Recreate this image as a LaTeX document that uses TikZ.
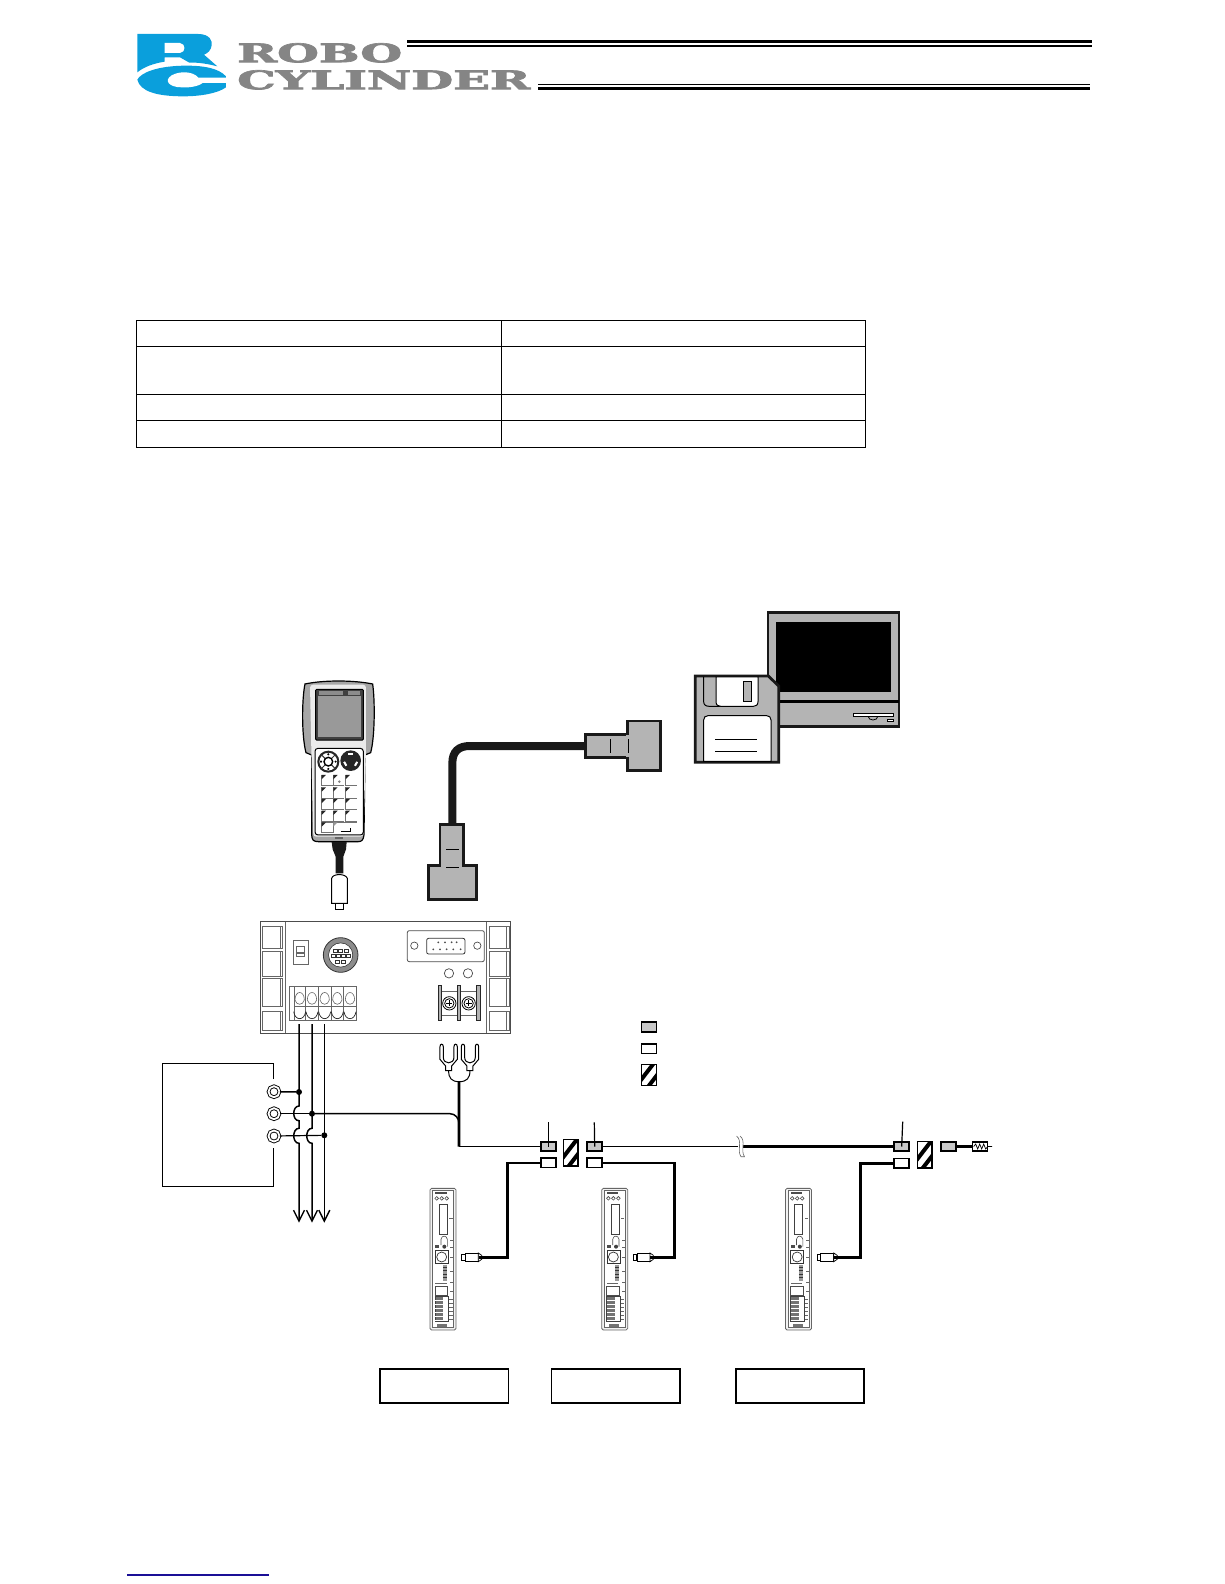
\documentclass[tikz,border=0pt]{standalone}
\usepackage{fontspec}
\usepackage{graphicx}
\usetikzlibrary{arrows.meta}
\newfontfamily\logofont[BoldFeatures={FakeBold=2.5}]{DejaVu Serif}
\definecolor{rcblue}{HTML}{0A9FDC}
\definecolor{rcgray}{HTML}{858585}
\definecolor{partgray}{HTML}{B4B4B4}
\definecolor{jointgray}{HTML}{C8C8C8}
\definecolor{linkblue}{HTML}{1A0F96}
\begin{document}
\begin{tikzpicture}[x=1pt,y=-1pt,
	zoomed/.style={x=.3333pt,y=-.3333pt},
	jointgray/.style={draw,line width=1.7pt,fill=jointgray,inner sep=0pt,minimum width=14.8pt,minimum height=9.4pt},
	jointwhite/.style={jointgray,fill=white},
	hatchbox/.style={draw,line width=1.3pt,fill=white,inner sep=0pt,minimum width=14.8pt,minimum height=#1,
		path picture={
			\draw[line width=4pt] ([shift={(-10.7pt,-8.7pt)}]path picture bounding box.center) -- ([shift={(9.3pt,17.3pt)}]path picture bounding box.center);
			\draw[line width=4pt] ([shift={(-7.3pt,-20.3pt)}]path picture bounding box.center) -- ([shift={(12.7pt,5.7pt)}]path picture bounding box.center);
		}},
	namebox/.style={draw,line width=1.8pt,inner sep=0pt,minimum width=128.6pt,minimum height=34pt},
	terminal/.style={circle,draw,double,line width=.9pt,double distance=1.8pt,inner sep=0pt,minimum size=11pt},
	tie/.style={circle,fill=black,inner sep=0pt,minimum size=6pt},
	thinwire/.style={line width=1.2pt},
	midwire/.style={line width=1.5pt},
	heavywire/.style={line width=2.6pt},
	outline/.style={draw=black!90,line width=2.8pt,fill=partgray},
	ctrlline/.style={draw=black!60,line width=.6pt},
	]
	\useasboundingbox (0,0) rectangle (1224,1584);
	% header
	\begin{scope}[shift={(130,28)},zoomed]
		\fill[rcblue] (22,18) -- (205,18) .. controls (240,18) and (248,40) .. (245,52) .. controls (243,66) and (235,75) .. (222,80) -- (262,115) .. controls (220,104) and (190,103) .. (178,104) -- (150,88) -- (104,88) -- (104,101) .. controls (70,106) and (40,118) .. (22,133) -- cycle;
		\fill[white] (104,45) -- (150,45) .. controls (168,47) and (168,73) .. (150,75) -- (104,75) -- cycle;
		\fill[rcblue] (22,155) .. controls (32,135) and (80,113) .. (170,113) .. controls (220,113) and (265,120) .. (288,145) -- (288,178) .. controls (265,195) and (215,205) .. (160,205) .. controls (80,205) and (30,190) .. (22,155) -- cycle;
		\fill[white] (290,149) -- (205,149) .. controls (190,130) and (150,128) .. (125,142) .. controls (100,158) and (118,178) .. (155,178) .. controls (185,180) and (210,172) .. (218,165) -- (290,165) -- cycle;
	\end{scope}
	\node[anchor=north west,inner sep=0pt,text=rcgray] (robo) at (237,43) {\resizebox{165pt}{19pt}{\logofont\bfseries ROBO}};
	\node[anchor=north west,inner sep=0pt,text=rcgray] (cylinder) at (237,70) {\resizebox{293pt}{19pt}{\logofont\bfseries CYLINDER}};
	\draw[line width=3pt] (407,41.5) -- (1092,41.5);
	\draw[line width=2pt] (407,45.7) -- (1092,45.7);
	\draw[line width=1.3pt] (538,84.3) -- (1090,84.3);
	\draw[line width=3pt] (538,88.3) -- (1090,88.3);
	% table
	\foreach \ty in {320,346.5,394,420,447.5}
		\draw[line width=1pt] (136.4,\ty) -- (865.6,\ty);
	\foreach \tx in {136.4,501,865.6}
		\draw[line width=1pt] (\tx,320) -- (\tx,447.5);
	% monitor and floppy
	\begin{scope}[shift={(680,600)},zoomed]
		\draw[outline,line width=2.6pt] (264,37) rectangle (657,380);
		\fill (288,67) rectangle (632,275);
		\draw[line width=3.4pt] (264,305) -- (657,305);
		\draw[line width=1pt,fill=white] (520,340) rectangle (640,350);
		\draw[line width=.8pt] (565,350) arc (180:0:14 and 10);
		\draw[line width=1pt,fill=white] (622,358) rectangle (640,365);
		\draw[outline] (46,228) -- (265,228) -- (296,258) -- (296,487) -- (46,487) -- cycle;
		\draw[line width=1pt] (71,230) -- (71,305) .. controls (71,315) and (78,319) .. (88,319) -- (220,319);
		\draw[line width=1pt,fill=white] (108,231) -- (234,231) -- (234,305) .. controls (234,315) and (228,319) .. (220,319) -- (122,319) .. controls (114,319) and (108,315) .. (108,305) -- cycle;
		\draw[line width=1pt,fill=partgray] (190,246) rectangle (215,304);
		\draw[line width=1pt,fill=white] (71,484) -- (71,360) .. controls (71,352) and (76,347) .. (84,347) -- (260,347) .. controls (268,347) and (273,352) .. (273,360) -- (273,484) -- cycle;
		\draw[line width=1pt] (105,418) -- (230,418);
		\draw[line width=1pt] (105,454) -- (230,454);
	\end{scope}
	% pc cable
	\begin{scope}[shift={(420,715)},zoomed]
		\draw[line width=8pt,black!90] (500,93) -- (150,93) .. controls (115,93) and (97,110) .. (97,145) -- (97,330);
		\draw[outline] (497,58) rectangle (625,128);
		\draw[outline] (622,18) rectangle (722,167);
		\fill[partgray] (618,61) rectangle (628,125);
		\draw[line width=.9pt] (571,72) -- (571,115);
		\draw[line width=.9pt] (625,72) -- (625,115);
		\draw[outline] (60,328) rectangle (130,452);
		\draw[outline] (25,452) rectangle (170,553);
		\fill[partgray] (64,448) rectangle (126,456);
		\draw[line width=.9pt] (78,403) -- (117,403);
		\draw[line width=.9pt] (78,457) -- (117,457);
	\end{scope}
	% teaching pendant
	\begin{scope}[shift={(280,660)},zoomed]
		\draw[line width=1.2pt,fill=black!35] (75,72) .. controls (130,60) and (220,60) .. (278,72) .. controls (285,120) and (285,230) .. (272,278) -- (255,285) -- (252,525) .. controls (250,540) and (245,545) .. (235,545) -- (115,545) .. controls (100,545) and (96,540) .. (95,525) -- (95,285) -- (78,278) .. controls (65,230) and (65,120) .. (75,72) -- cycle;
		\fill[black!8,rounded corners=3pt] (90,74) -- (258,74) -- (258,270) -- (250,530) -- (100,530) -- (94,270) -- cycle;
		\draw[line width=1pt,fill=black!75,rounded corners=1pt] (107,88) rectangle (250,240);
		\fill[black!40] (115,107) rectangle (242,232);
		\fill[black!45] (118,92) rectangle (190,104);
		\fill[black!45] (205,92) rectangle (240,104);
		\draw[line width=1pt,fill=white,rounded corners=3pt] (105,265) rectangle (250,525);
		\draw[line width=2pt,draw=black!85,fill=white] (145,305) circle (30);
		\foreach \da in {45,135,225,315}
			\draw[line width=1pt,black!80] (145,305) ++(\da:13) -- ++(\da:17);
		\draw[line width=1.4pt,fill=white] (145,305) circle (13);
		\foreach \da in {0,90,180,270}
			\fill[black] (145,305) ++(\da:22) circle (3.5);
		\fill[black!85] (212,302) circle (31);
		\draw[white,line width=2pt] (212,302) ++(-110:20) arc (-110:-70:20);
		\draw[white,line width=2pt] (212,302) ++(10:20) arc (10:50:20);
		\draw[white,line width=2pt] (212,302) ++(130:20) arc (130:170:20);
		\foreach \ky in {345,382,417,452}
			\foreach \kx in {125,160,197} {
				\draw[black!55,line width=.7pt] (\kx,\ky) -- (\kx,\ky+32) -- (\kx+33,\ky+32);
				\fill[black!85] (\kx,\ky) -- (\kx+13,\ky) -- (\kx,\ky+13) -- cycle;
			}
		\fill[black!50] (178,365) circle (4);
		\draw[black!55,line width=.7pt] (125,487) rectangle (160,518);
		\fill[black!85] (125,487) -- (138,487) -- (125,500) -- cycle;
		\draw[black!55,line width=.7pt] (160,518) -- (160,487) -- (230,487);
		\fill[black!40] (160,487) -- (173,487) -- (160,500) -- cycle;
		\draw[line width=.7pt] (182,513) -- (212,513) -- (212,504);
		\fill[black!60] (165,530) rectangle (190,536);
		\fill[black!90] (155,546) -- (200,546) -- (198,568) -- (190,590) -- (190,640) -- (167,640) -- (167,590) -- (158,568) -- cycle;
		\draw[line width=1pt,fill=white] (155,655) .. controls (158,640) and (197,640) .. (202,655) -- (202,730) -- (155,730) -- cycle;
		\draw[line width=1pt,fill=white] (167,732) rectangle (192,750);
	\end{scope}
	% controller
	\begin{scope}[shift={(250,905)},zoomed]
		\draw[line width=.9pt,draw=black!70] (30,50) rectangle (780,385);
		\draw[ctrlline] (107,50) -- (107,385);
		\draw[ctrlline] (710,50) -- (710,385);
		\foreach \ex in {38,718}
			\foreach \ey/\eh in {65/130,140/215,220/305,318/375} {
				\draw[ctrlline] (\ex,\ey) rectangle (\ex+60,\eh);
				\draw[ctrlline] (\ex+52,\ey) -- (\ex+52,\eh);
			}
		% switch
		\draw[line width=1pt,draw=black!60] (130,105) rectangle (175,178);
		\draw[ctrlline] (140,125) rectangle (163,155);
		\fill[black!60] (140,142) rectangle (163,147);
		% round socket
		\fill[black!45] (272,150) circle (52);
		\draw[black!80,line width=.8pt] (272,150) circle (52);
		\draw[black!80,line width=.8pt] (272,150) circle (36);
		\fill[white] (272,150) circle (35);
		\foreach \sx/\sy in {255/137,272/137,289/137,250/153,266/153,281/153,296/153,262/170,280/170}
			\draw[black!80,line width=.6pt] (\sx-6,\sy-5) rectangle (\sx+6,\sy+5);
		% d-sub plate
		\draw[line width=.8pt,draw=black!70,rounded corners=2pt] (472,77) rectangle (703,170);
		\draw[black!70,line width=.7pt] (493,122) circle (11);
		\draw[black!70,line width=.7pt] (682,122) circle (11);
		\draw[black!80,line width=.8pt,rounded corners=2pt] (530,100) rectangle (645,147);
		\foreach \px in {565,585,605,620}
			\fill[black!70] (\px,112) circle (3);
		\foreach \px in {550,570,590,610,632}
			\fill[black!70] (\px,133) circle (3);
		\draw[black!70,line width=.7pt] (597,205) circle (14);
		\draw[black!70,line width=.7pt] (654,205) circle (14);
		% power terminal block
		\draw[ctrlline] (118,245) rectangle (320,345);
		\foreach \bx in {132,167,205,243,281,320}
			\draw[ctrlline] (\bx,245) -- (\bx,345);
		\draw[ctrlline] (132,305) -- (320,305);
		\foreach \bx in {149,186,224,262,300} {
			\draw[ctrlline] (\bx-14,285) .. controls (\bx-14,255) and (\bx+14,255) .. (\bx+14,285) .. controls (\bx+10,302) and (\bx-10,302) .. (\bx-14,285) -- cycle;
			\draw[black!85,line width=.7pt] (\bx-18,320) .. controls (\bx-14,348) and (\bx+14,348) .. (\bx+18,320);
		}
		% screw terminal
		\draw[ctrlline] (575,258) rectangle (680,330);
		\foreach \rx in {565,622,680}
			\draw[black!85,line width=.8pt,fill=black!30] (\rx,240) rectangle (\rx+10,345);
		\foreach \rx in {598,656} {
			\draw[line width=.8pt,fill=white] (\rx,295) circle (20);
			\draw[line width=.8pt] (\rx,295) circle (14);
			\draw[line width=.8pt] (\rx-9,295) -- (\rx+9,295);
			\draw[line width=.8pt] (\rx,286) -- (\rx,304);
		}
	\end{scope}
	% power supply
	\draw[line width=1pt] (273.3,1079) -- (273.3,1063.3) -- (162.3,1063.3) -- (162.3,1186) -- (273.3,1186) -- (273.3,1148.3);
	\node[terminal] (termA) at (274,1091.7) {};
	\node[terminal] (termB) at (274,1113.7) {};
	\node[terminal] (termC) at (274,1136) {};
	\node[tie] (tieA) at (299,1092) {};
	\node[tie] (tieB) at (312,1113.7) {};
	\node[tie] (tieC) at (324.3,1135.3) {};
	\coordinate (pinA) at (299,1024);
	\coordinate (pinB) at (312,1024);
	\coordinate (pinC) at (324.3,1024);
	\coordinate (exitA) at (299,1222.7);
	\coordinate (exitB) at (312,1222.7);
	\coordinate (exitC) at (324.3,1222.7);
	\tikzset{busline/.style={line width=1.5pt,-{Straight Barb[length=11pt,width=11pt,line width=1.4pt]}}}
	\draw[busline] (pinA) -- (299,1106) .. controls (292,1106) and (292,1120.7) .. (299,1120.7) -- (299,1128.3) .. controls (292,1128.3) and (292,1143.3) .. (299,1143.3) -- (exitA);
	\draw[busline] (pinB) -- (312,1128.3) .. controls (305,1128.3) and (305,1143.3) .. (312,1143.3) -- (exitB);
	\draw[busline] (pinC) -- (exitC);
	\draw[midwire] (termA) -- (tieA);
	\draw[thinwire] (termC) -- (tieC);
	% fork terminals
	\begin{scope}[shift={(150,1030)},zoomed]
		\foreach \fx in {896,960} {
			\draw[line width=1pt,fill=white] (\fx-26,50) .. controls (\fx-26,40) and (\fx-16,40) .. (\fx-16,50) -- (\fx-16,82) .. controls (\fx-16,104) and (\fx+16,104) .. (\fx+16,82) -- (\fx+16,50) .. controls (\fx+16,40) and (\fx+26,40) .. (\fx+26,50) -- (\fx+26,88) -- (\fx+9,108) -- (\fx+9,122) -- (\fx-9,122) -- (\fx-9,108) -- (\fx-26,88) -- cycle;
		}
		\draw[line width=1pt] (896,122) .. controls (896,145) and (905,155) .. (928,155) .. controls (950,155) and (960,145) .. (960,122);
		\coordinate (forkjoin) at (927,155);
	\end{scope}
	% network line
	\node[jointgray] (jointgrayA) at (548.3,1146.5) {};
	\node[jointwhite] (jointwhiteA) at (548.3,1162.8) {};
	\node[hatchbox=26.6pt] (hatchA) at (570.7,1152.7) {};
	\node[jointgray] (jointgrayB) at (594.7,1146.5) {};
	\node[jointwhite] (jointwhiteB) at (594.7,1162.8) {};
	\node[jointgray] (jointgrayC) at (901.7,1146.5) {};
	\node[jointwhite] (jointwhiteC) at (901.7,1163.3) {};
	\node[hatchbox=26.6pt] (hatchC) at (924.7,1154.7) {};
	\node[jointgray] (endgray) at (948.7,1146.5) {};
	\node[draw,line width=1.6pt,inner sep=0pt,minimum width=15pt,minimum height=9.5pt] (resistor) at (980,1146.5) {};
	\coordinate (buscorner) at (459,1146.5);
	\coordinate (breakleft) at (738,1146.5);
	\coordinate (breakright) at (742,1146.5);
	\coordinate (gndbend) at (450,1113.7);
	\coordinate (gndjoin) at (459,1123.3);
	\draw[midwire] (tieB) -- (gndbend) .. controls (455,1113.7) and (459,1118) .. (gndjoin);
	\draw[midwire] (termB) -- (tieB);
	\draw[heavywire] (forkjoin) -- (buscorner);
	\draw[midwire] (buscorner) -- (jointgrayA);
	\draw[thinwire] (jointgrayB) -- (breakleft);
	\draw[heavywire] (breakright) -- (jointgrayC);
	\draw[heavywire] (endgray) -- (resistor);
	\draw[black!60,line width=.6pt,fill=white] (736.5,1136) .. controls (743,1141) and (736.5,1150) .. (741,1156.7) -- (744.5,1156.7) .. controls (740,1150) and (746.5,1141) .. (740,1136);
	\draw[line width=.7pt] (resistor.west) ++(2,0) -- ++(2,-2.5) -- ++(2,5) -- ++(2,-5) -- ++(2,5) -- ++(2,-5) -- ++(2,5) -- ++(2,-2.5) -- ++(4.5,0);
	\coordinate (leaderA) at (548.3,1122.3);
	\coordinate (leaderB) at (594.3,1122.3);
	\coordinate (leaderC) at (902.7,1121.7);
	\draw[thinwire] (leaderA) -- (jointgrayA.center);
	\draw[thinwire] (leaderB) -- (jointgrayB.center);
	\draw[thinwire] (leaderC) -- (jointgrayC.center);
	% legend
	\node[jointgray] (legendgray) at (649,1027) {};
	\node[jointwhite] (legendwhite) at (649,1048.8) {};
	\node[hatchbox=21pt] (legendhatch) at (649,1074.7) {};
	% controllers
	\foreach \ux/\un in {0/A,171.7/B,355.5/C} {
		\begin{scope}[shift={(420+\ux,1180)},zoomed]
			\node[draw=black!60,line width=.8pt,fill=black!5,rounded corners=1.5pt,inner sep=0pt,minimum width=26pt,minimum height=141.6pt] (unit\un) at (69,237.5) {};
			\draw[black!60,line width=.6pt,fill=white] (38,32) rectangle (100,443);
			\fill[black!70] (45,35) rectangle (80,43);
			\draw[black!70,line width=.6pt] (50,55) circle (5.5) (65,55) circle (5.5) (80,55) circle (5.5);
			\draw[black!75,line width=.7pt] (58,72) rectangle (82,162);
			\fill[black!60] (88,114) rectangle (98,118);
			\draw[black!70,line width=.6pt] (63,195) -- (63,178) .. controls (65,165) and (80,165) .. (82,178) -- (82,200);
			\fill[black!75] (73,200) circle (6);
			\draw[black!80,line width=.7pt] (46,212) rectangle (85,250);
			\draw[black!80,line width=.7pt,fill=white] (65,231) circle (15);
			\foreach \ty in {180,200,230,273,307,332}
				\fill[black!60] (90,\ty) rectangle (99,\ty+3);
			\fill[black!70] (45,195) rectangle (57,205);
			\fill[black!40] (70,255) rectangle (82,302);
			\foreach \ty in {262,272,282,292}
				\draw[black!80,line width=.5pt] (70,\ty) -- (82,\ty);
			\fill[black!60] (45,308) rectangle (80,313);
			\draw[black!70,line width=.7pt] (45,318) rectangle (83,345);
			\fill[black!55] (45,350) rectangle (70,425);
			\draw[black!75,line width=.6pt] (45,350) rectangle (85,425);
			\foreach \ty in {360,372,384,396,408,420} {
				\draw[white,line width=.5pt] (45,\ty) -- (70,\ty);
				\fill[black!60] (88,\ty-2) rectangle (98,\ty);
			}
			\fill[black!55] (52,433) rectangle (82,440);
			\draw[line width=.7pt,fill=white] (125,224) rectangle (135,240);
			\node[draw,line width=.7pt,fill=white,inner sep=0pt,minimum width=13pt,minimum height=8.6pt] (plug\un) at (155,232) {};
			\draw[line width=.7pt,fill=white] (175,219) -- (185,226) -- (185,238) -- (175,245) -- cycle;
		\end{scope}
	}
	\draw[heavywire] (plugA.east) -| (507.7,1162.8) -- (jointwhiteA);
	\draw[heavywire] (plugB.east) -| (674.7,1162.8) -- (jointwhiteB);
	\draw[heavywire] (plugC.east) -| (860.5,1163.3) -- (jointwhiteC);
	% name plates
	\node[namebox] (plateA) at (444.2,1386) {};
	\node[namebox] (plateB) at (615.7,1386) {};
	\node[namebox] (plateC) at (800,1386) {};
	% link
	\draw[linkblue,line width=1.2pt] (127,1575) -- (268.7,1575);
\end{tikzpicture}
\end{document}
